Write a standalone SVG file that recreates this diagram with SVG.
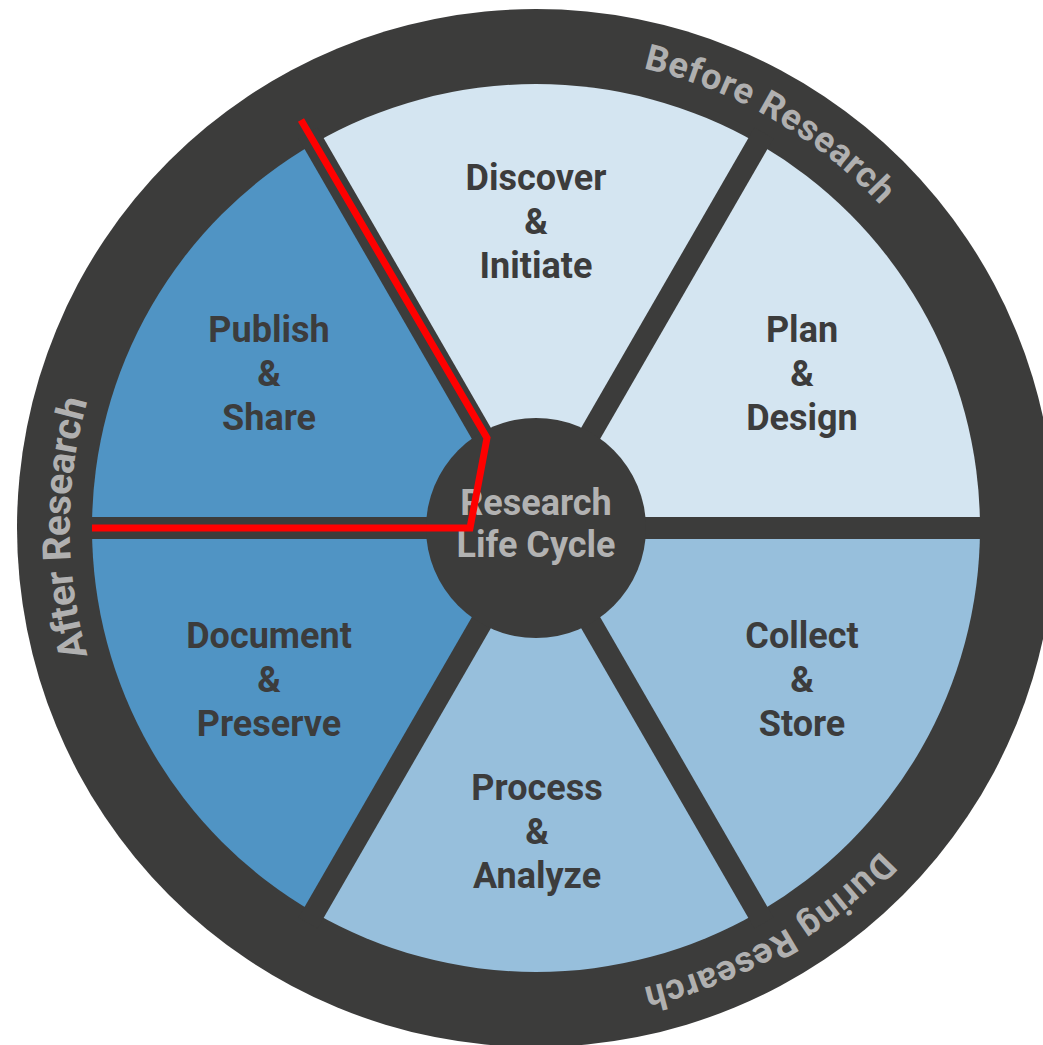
<svg xmlns="http://www.w3.org/2000/svg" xmlns:xlink="http://www.w3.org/1999/xlink" width="1043" height="1045" viewBox="0 0 1043 1045">
  <style>
    .dark { fill: #3c3c3b; }
    .light { fill: #d4e5f1; }
    .mid { fill: #97bfdc; }
    .deep { fill: #5094c4; }
    .label { font-family: Roboto, "Liberation Sans", "DejaVu Sans", sans-serif; font-weight: 700; font-size: 36px; fill: #3c3c3c; text-anchor: middle; }
    .center { font-family: Roboto, "Liberation Sans", "DejaVu Sans", sans-serif; font-weight: 700; font-size: 36px; fill: #b2b2b2; text-anchor: middle; }
    .ring { font-family: Roboto, "Liberation Sans", "DejaVu Sans", sans-serif; font-weight: 700; fill: #b0b0b0; text-anchor: middle; }
    .divider { stroke: #3c3c3b; stroke-width: 22; fill: none; }
    .red { stroke: #ff0000; stroke-width: 7; fill: none; stroke-linejoin: miter; }
  </style>
  <defs>
    <path id="ringA" d="M536,56 A472,472 0 1 1 536,1000 A472,472 0 1 1 536,56"/>
    <path id="ringB" d="M536,62 A466,466 0 1 1 536,994 A466,466 0 1 1 536,62"/>
  </defs>
  <rect width="1043" height="1045" fill="#ffffff"/>
  <g id="ring">
    <circle class="dark" cx="536" cy="528" r="519"/>
    <text class="ring" font-size="36"><textPath xlink:href="#ringA" startOffset="247.1" textLength="278">Before Research</textPath></text>
    <text class="ring" font-size="36"><textPath xlink:href="#ringA" startOffset="1235.7" textLength="278">During Research</textPath></text>
    <text class="ring" font-size="39"><textPath xlink:href="#ringB" startOffset="2196.0" textLength="258">After Research</textPath></text>
  </g>
  <g id="discover">
    <path class="light" d="M536,528 L314,143.5 A444,444 0 0 1 758,143.5 Z"/>
    <text class="label" x="536" y="190">Discover</text>
    <text class="label" x="536" y="234">&amp;</text>
    <text class="label" x="536" y="278">Initiate</text>
  </g>
  <g id="plan">
    <path class="light" d="M536,528 L758,143.5 A444,444 0 0 1 980,528 Z"/>
    <text class="label" x="802" y="342">Plan</text>
    <text class="label" x="802" y="386">&amp;</text>
    <text class="label" x="802" y="430">Design</text>
  </g>
  <g id="collect">
    <path class="mid" d="M536,528 L980,528 A444,444 0 0 1 758,912.5 Z"/>
    <text class="label" x="802" y="648">Collect</text>
    <text class="label" x="802" y="692">&amp;</text>
    <text class="label" x="802" y="736">Store</text>
  </g>
  <g id="process">
    <path class="mid" d="M536,528 L758,912.5 A444,444 0 0 1 314,912.5 Z"/>
    <text class="label" x="537" y="800">Process</text>
    <text class="label" x="537" y="844">&amp;</text>
    <text class="label" x="537" y="888">Analyze</text>
  </g>
  <g id="document">
    <path class="deep" d="M536,528 L314,912.5 A444,444 0 0 1 92,528 Z"/>
    <text class="label" x="269" y="648">Document</text>
    <text class="label" x="269" y="692">&amp;</text>
    <text class="label" x="269" y="736">Preserve</text>
  </g>
  <g id="publish">
    <path class="deep" d="M536,528 L92,528 A444,444 0 0 1 314,143.5 Z"/>
    <text class="label" x="269" y="342">Publish</text>
    <text class="label" x="269" y="386">&amp;</text>
    <text class="label" x="269" y="430">Share</text>
  </g>
  <g id="connectors">
    <line class="divider" x1="80" y1="528" x2="992" y2="528"/>
    <line class="divider" x1="308" y1="133" x2="764" y2="923"/>
    <line class="divider" x1="764" y1="133" x2="308" y2="923"/>
  </g>
  <g id="hub">
    <circle class="dark" cx="536" cy="528" r="110"/>
    <text class="center" x="536" y="515">Research</text>
    <text class="center" x="536" y="557">Life Cycle</text>
  </g>
  <g id="highlight">
    <polyline class="red" points="301,120 487,438 470,528 92,528"/>
  </g>
</svg>
